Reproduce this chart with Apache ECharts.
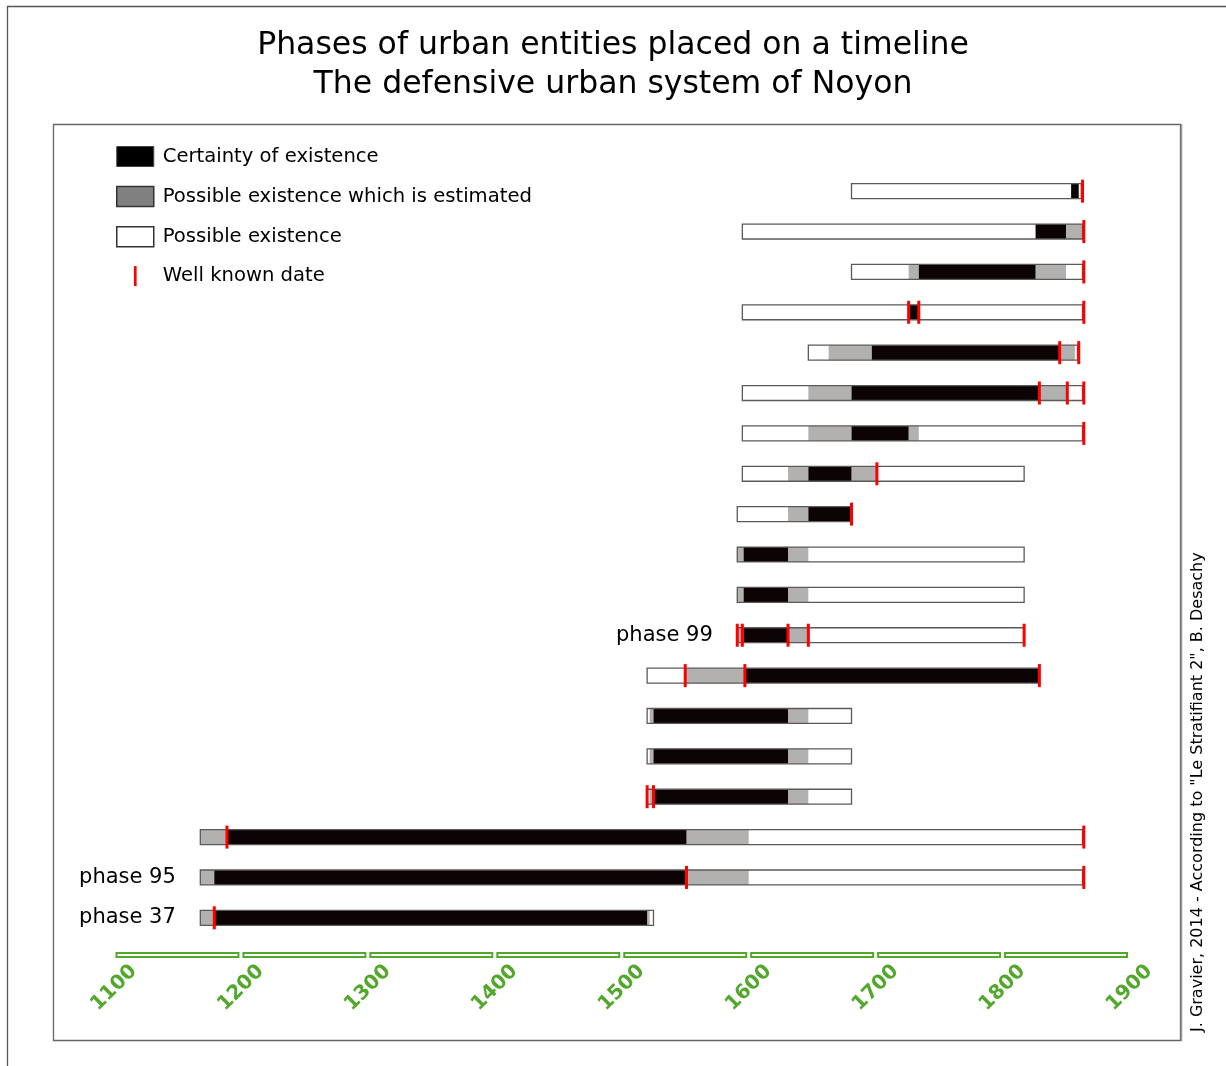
<!DOCTYPE html>
<html>
<head>
<meta charset="utf-8">
<script src="https://cdn.jsdelivr.net/npm/echarts@6/dist/echarts.min.js"></script>
<style>
html,body{margin:0;padding:0;background:#fff;}
#chart{width:1226px;height:1066px;}
</style>
</head>
<body>
<div id="chart"></div>
<script>
// ---- Data ----
// Rows, top to bottom (index 0 = top)
const rowLabels = ['e1','e2','e3','e4','e5','e6','e7','e8','e9','e10','e11','phase 99','e13','e14','e15','e16','e17','phase 95','phase 37'];

// [row, start year, end year]
const certain = [
  [0,1854,1860],[1,1826,1850],[2,1734,1826],[3,1727,1734],[4,1697,1845],
  [5,1681,1829],[6,1681,1726],[7,1647,1681],[8,1647,1681],[9,1596,1631],
  [10,1596,1631],[11,1596,1631],[12,1597,1829],[13,1525,1631],[14,1525,1631],
  [15,1525,1631],[16,1189,1551],[17,1179,1551],[18,1179,1520]
];
const estimated = [
  [1,1850,1863],[2,1726,1734],[2,1826,1850],[4,1663,1697],[4,1845,1857],
  [5,1647,1681],[5,1829,1850],[6,1647,1681],[6,1726,1734],[7,1631,1647],
  [7,1681,1701],[8,1631,1647],[9,1591,1596],[9,1631,1647],[10,1591,1596],
  [10,1631,1647],[11,1591,1596],[11,1631,1647],[12,1550,1597],[13,1522,1525],
  [13,1631,1647],[14,1522,1525],[14,1631,1647],[15,1522,1525],[15,1631,1647],
  [16,1168,1189],[16,1551,1600],[17,1168,1179],[17,1551,1600],[18,1168,1179],
  [18,1520,1522]
];
const possible = [
  [0,1681,1854],[0,1860,1862],[1,1595,1826],[2,1681,1726],[2,1850,1863],
  [3,1595,1727],[3,1734,1863],[4,1647,1663],[4,1857,1859],[5,1595,1647],
  [5,1850,1863],[6,1595,1647],[6,1734,1863],[7,1595,1631],[7,1701,1817],
  [8,1591,1631],[9,1647,1817],[10,1647,1817],[11,1647,1817],[12,1520,1550],
  [13,1520,1522],[13,1647,1681],[14,1520,1522],[14,1647,1681],[15,1520,1522],
  [15,1647,1681],[16,1600,1863],[17,1600,1863],[18,1522,1525]
];
// [row, year]
const wellKnown = [
  [0,1863],[1,1864],[2,1864],[3,1726],[3,1734],[3,1864],[4,1845],[4,1860],
  [5,1829],[5,1851],[5,1864],[6,1864],[7,1701],[8,1681],
  [11,1591],[11,1595],[11,1631],[11,1647],[11,1817],
  [12,1550],[12,1597],[12,1829],[15,1520],[15,1525],
  [16,1189],[16,1864],[17,1551],[17,1864],[18,1179]
];
const phaseLabels = [[11,'phase 99'],[17,'phase 95'],[18,'phase 37']];
const centuries = [[1100,1200],[1200,1300],[1300,1400],[1400,1500],[1500,1600],[1600,1700],[1700,1800],[1800,1900]];

const SERIES_CERTAIN = 'Certainty of existence';
const SERIES_EST = 'Possible existence which is estimated';
const SERIES_POSS = 'Possible existence';
const SERIES_WK = 'Well known date';

// ---- Derived row extents ----
const rowStart = rowLabels.map(() => Infinity);
const rowEnd = rowLabels.map(() => -Infinity);
[certain, estimated, possible].forEach(arr => arr.forEach(d => {
  rowStart[d[0]] = Math.min(rowStart[d[0]], d[1]);
  rowEnd[d[0]] = Math.max(rowEnd[d[0]], d[2]);
}));
const outlines = rowLabels.map((_, i) => [i, rowStart[i], rowEnd[i]]);

const GREEN = '#52a82b';
const FONT = 'DejaVu Sans';

function segRender(fill) {
  return function (params, api) {
    const row = api.value(0);
    const p1 = api.coord([api.value(1), row]);
    const p2 = api.coord([api.value(2), row]);
    const h = api.size([0, 1])[1] * 0.37;
    return { type: 'rect', shape: { x: p1[0], y: p1[1] - h / 2, width: p2[0] - p1[0], height: h }, style: { fill: fill } };
  };
}

const chart = echarts.init(document.getElementById('chart'));
chart.setOption({
  backgroundColor: '#fff',
  animation: false,
  title: {
    text: 'Phases of urban entities placed on a timeline\nThe defensive urban system of Noyon',
    left: 'center', top: 21,
    textStyle: { fontFamily: FONT, fontSize: 31.5, fontWeight: 'normal', color: '#000', lineHeight: 39 }
  },
  legend: {
    orient: 'vertical', left: 116, top: 146, padding: 0,
    itemWidth: 37, itemHeight: 20, itemGap: 18.7, selectedMode: false,
    symbolKeepAspect: true,
    textStyle: { fontFamily: FONT, fontSize: 19.6, color: '#000', padding: [0, 0, 0, 4], lineHeight: 20 },
    data: [
      { name: SERIES_CERTAIN, icon: 'rect', itemStyle: { color: '#000', borderColor: '#444', borderWidth: 1 } },
      { name: SERIES_EST, icon: 'rect', itemStyle: { color: '#808080', borderColor: '#333', borderWidth: 1.5 } },
      { name: SERIES_POSS, icon: 'rect', itemStyle: { color: '#fff', borderColor: '#333', borderWidth: 1.5 } },
      { name: SERIES_WK, icon: 'path://M0,0h3v22h-3z', itemStyle: { color: '#ff0000' } }
    ]
  },
  grid: { left: 114, right: 96.5, top: 171, bottom: 128 },
  xAxis: {
    type: 'value', min: 1100, max: 1900, interval: 100, offset: 17,
    axisLine: { show: false }, axisTick: { show: false }, splitLine: { show: false },
    axisLabel: {
      rotate: 45, margin: 33, align: 'center', verticalAlign: 'middle',
      color: GREEN, fontFamily: FONT, fontWeight: 'bold', fontSize: 20,
      showMinLabel: true, showMaxLabel: true,
      formatter: function (v) { return String(v); }
    }
  },
  yAxis: {
    type: 'category', data: rowLabels, inverse: true,
    axisLine: { show: false }, axisTick: { show: false }, axisLabel: { show: false }, splitLine: { show: false }
  },
  graphic: [
    { type: 'polyline', shape: { points: [[7.5, 1066], [7.5, 6.5], [1226, 6.5]] }, style: { stroke: '#555', lineWidth: 1.3, fill: null }, silent: true },
    { type: 'rect', shape: { x: 53.5, y: 124.5, width: 1127, height: 916 }, style: { stroke: '#666', lineWidth: 1.3, fill: null }, silent: true },
    { type: 'line', shape: { x1: 1181.5, y1: 124, x2: 1181.5, y2: 1041 }, style: { stroke: '#999', lineWidth: 1.5 }, silent: true },
    { type: 'text', x: 1198, y: 1032, rotation: Math.PI / 2,
      style: { text: 'J. Gravier, 2014 - According to "Le Stratifiant 2", B. Desachy', fontFamily: FONT, fontSize: 16, fill: '#000', textAlign: 'left', textVerticalAlign: 'middle' }, silent: true }
  ],
  series: [
    { name: SERIES_POSS, type: 'custom', renderItem: segRender('#ffffff'), encode: { x: [1, 2], y: 0 }, data: possible, itemStyle: { color: '#fff' } },
    { name: SERIES_EST, type: 'custom', renderItem: segRender('#b3b0b0'), encode: { x: [1, 2], y: 0 }, data: estimated, itemStyle: { color: '#808080' } },
    { name: SERIES_CERTAIN, type: 'custom', renderItem: segRender('#0c0404'), encode: { x: [1, 2], y: 0 }, data: certain, itemStyle: { color: '#000' } },
    { name: 'outline', type: 'custom', encode: { x: [1, 2], y: 0 }, data: outlines, silent: true,
      renderItem: function (params, api) {
        const row = api.value(0);
        const p1 = api.coord([api.value(1), row]);
        const p2 = api.coord([api.value(2), row]);
        const h = api.size([0, 1])[1] * 0.37;
        return { type: 'rect', shape: { x: p1[0], y: p1[1] - h / 2, width: p2[0] - p1[0], height: h }, style: { fill: null, stroke: '#5a5a5a', lineWidth: 1.3 } };
      }
    },
    { name: SERIES_WK, type: 'custom', encode: { x: 1, y: 0 }, data: wellKnown, itemStyle: { color: '#ff0000' },
      renderItem: function (params, api) {
        const p = api.coord([api.value(1), api.value(0)]);
        const h = api.size([0, 1])[1] * 0.57;
        return { type: 'rect', shape: { x: p[0] - 1.5, y: p[1] - h / 2, width: 3, height: h }, style: { fill: '#ff0000' } };
      }
    },
    { name: 'phase labels', type: 'custom', encode: { y: 0 }, data: phaseLabels.map(d => [d[0]]), silent: true,
      renderItem: function (params, api) {
        const row = api.value(0);
        const p = api.coord([rowStart[row], row]);
        return { type: 'text', style: { text: phaseLabels[params.dataIndex][1], x: p[0] - 24.5, y: p[1], textAlign: 'right', textVerticalAlign: 'middle', fontFamily: FONT, fontSize: 21, fill: '#000' } };
      }
    },
    { name: 'axis segments', type: 'custom', encode: { x: [0, 1] }, data: centuries, silent: true,
      renderItem: function (params, api) {
        const last = rowLabels.length - 1;
        const a = api.coord([api.value(0), last]);
        const b = api.coord([api.value(1), last]);
        const y = a[1] + api.size([0, 1])[1] / 2 + 17;
        return { type: 'rect', shape: { x: a[0] + 2.5, y: y - 2, width: b[0] - a[0] - 5, height: 4 }, style: { fill: '#fff', stroke: GREEN, lineWidth: 2 } };
      }
    }
  ]
});
</script>
</body>
</html>
